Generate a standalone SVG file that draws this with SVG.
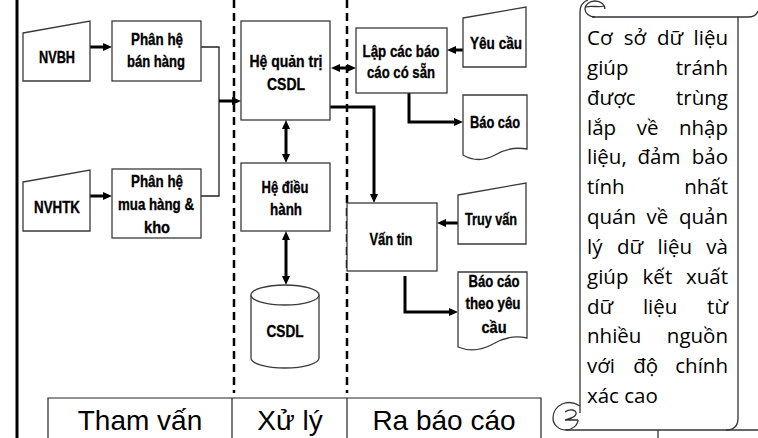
<svg xmlns="http://www.w3.org/2000/svg" width="758" height="438" viewBox="0 0 758 438">
<defs>
<marker id="ah" markerUnits="userSpaceOnUse" markerWidth="9" markerHeight="8" refX="4" refY="4" orient="auto-start-reverse" viewBox="0 0 9 8"><path d="M0,0 L9,4 L0,8 z" fill="#000"/></marker>
<style>
.box{fill:#fff;stroke:#3a3a3a;stroke-width:1.3}
.lbl{font-family:"Liberation Sans Narrow","Liberation Sans",Arial,sans-serif;font-weight:bold;font-size:17px;fill:#000;stroke:#000;stroke-width:0.35;text-anchor:middle}
.thick{fill:none;stroke:#000;stroke-width:3}
.thin{fill:none;stroke:#222;stroke-width:1.3}
.dash{stroke:#000;stroke-width:2.5;stroke-dasharray:8 5}
.tbl{fill:none;stroke:#222;stroke-width:1.2}
.tt{font-family:"Liberation Sans",Arial,sans-serif;font-size:28px;text-anchor:middle;fill:#000}
.sc{font-family:"Open Sans","Noto Sans",sans-serif;font-size:20.5px;fill:#000}
.scl{fill:none;stroke:#333;stroke-width:1.3}
</style>
</defs>
<rect width="758" height="438" fill="#fff"/>

<g id="frame">
<line x1="17" y1="0" x2="17" y2="438" stroke="#000" stroke-width="3"/>
<line class="dash" x1="234" y1="0" x2="234" y2="393"/>
<line class="dash" x1="347" y1="0" x2="347" y2="393"/>
</g>

<g id="connectors">
<path class="thin" d="M201,47 H219 V196 H201"/>
<path class="thick" d="M90,47 H107" marker-end="url(#ah)"/>
<path class="thick" d="M90,196 H107" marker-end="url(#ah)"/>
<path class="thick" d="M219,101 H236" marker-end="url(#ah)"/>
<path class="thick" d="M336,68 H351" marker-start="url(#ah)" marker-end="url(#ah)"/>
<path class="thick" d="M463,50 H452" marker-end="url(#ah)"/>
<path class="thick" d="M409,93 V122 H458" marker-end="url(#ah)"/>
<path class="thick" d="M330,107 H374 V198" marker-end="url(#ah)"/>
<path class="thick" d="M286,125 V158" marker-start="url(#ah)" marker-end="url(#ah)"/>
<path class="thick" d="M286,236 V280" marker-start="url(#ah)" marker-end="url(#ah)"/>
<path class="thick" d="M458,223 H442" marker-end="url(#ah)"/>
<path class="thick" d="M405,276 V312 H453" marker-end="url(#ah)"/>
</g>

<g id="nvbh">
<polygon class="box" points="23,33 90,21 90,81 23,81"/>
<text class="lbl" x="57" y="63" textLength="36" lengthAdjust="spacingAndGlyphs">NVBH</text>
</g>
<g id="phanhe-banhang">
<rect class="box" x="112" y="21" width="89" height="60"/>
<text class="lbl" x="157" y="45" textLength="52" lengthAdjust="spacingAndGlyphs">Phân hệ</text>
<text class="lbl" x="156" y="67" textLength="58" lengthAdjust="spacingAndGlyphs">bán hàng</text>
</g>
<g id="nvhtk">
<polygon class="box" points="23,182 90,170 90,231 23,231"/>
<text class="lbl" x="57" y="213" textLength="46" lengthAdjust="spacingAndGlyphs">NVHTK</text>
</g>
<g id="phanhe-muahang">
<rect class="box" x="112" y="169" width="89" height="69"/>
<text class="lbl" x="157" y="187" textLength="52" lengthAdjust="spacingAndGlyphs">Phân hệ</text>
<text class="lbl" x="156" y="210" textLength="76" lengthAdjust="spacingAndGlyphs">mua hàng &amp;</text>
<text class="lbl" x="157" y="233" textLength="26" lengthAdjust="spacingAndGlyphs">kho</text>
</g>
<g id="hqt">
<rect class="box" x="241" y="21" width="89" height="99"/>
<text class="lbl" x="286" y="67" textLength="73" lengthAdjust="spacingAndGlyphs">Hệ quản trị</text>
<text class="lbl" x="286" y="90" textLength="38" lengthAdjust="spacingAndGlyphs">CSDL</text>
</g>
<g id="hdh">
<rect class="box" x="241" y="163" width="89" height="68"/>
<text class="lbl" x="285" y="193" textLength="47" lengthAdjust="spacingAndGlyphs">Hệ điều</text>
<text class="lbl" x="286" y="215" textLength="32" lengthAdjust="spacingAndGlyphs">hành</text>
</g>
<g id="csdl">
<path class="box" d="M251,295 V358 A34,10 0 0 0 319,358 V295"/>
<ellipse class="box" cx="285" cy="295" rx="34" ry="10"/>
<text class="lbl" x="285" y="337" textLength="37" lengthAdjust="spacingAndGlyphs">CSDL</text>
</g>
<g id="lapbaocao">
<rect class="box" x="356" y="28" width="91" height="65"/>
<text class="lbl" x="401" y="57" textLength="77" lengthAdjust="spacingAndGlyphs">Lập các báo</text>
<text class="lbl" x="401" y="78" textLength="68" lengthAdjust="spacingAndGlyphs">cáo có sẵn</text>
</g>
<g id="yeucau">
<polygon class="box" points="463,18 526,7 526,67 463,67"/>
<text class="lbl" x="496" y="49" textLength="52" lengthAdjust="spacingAndGlyphs">Yêu cầu</text>
</g>
<g id="baocao">
<path class="box" d="M463,95 H527 V149 Q510,146 495,155 Q478,164 463,155 Z"/>
<text class="lbl" x="495" y="128" textLength="50" lengthAdjust="spacingAndGlyphs">Báo cáo</text>
</g>
<g id="vantin">
<rect class="box" x="347" y="203" width="90" height="68"/>
<text class="lbl" x="391" y="245" textLength="43" lengthAdjust="spacingAndGlyphs">Vấn tin</text>
</g>
<g id="truyvan">
<polygon class="box" points="458,195 526,183 526,244 458,244"/>
<text class="lbl" x="491" y="225" textLength="52" lengthAdjust="spacingAndGlyphs">Truy vấn</text>
</g>
<g id="baocao-yeucau">
<path class="box" d="M458,272 H527 V338 Q510,334 493,344 Q475,354 458,347 Z"/>
<text class="lbl" x="494" y="287" textLength="51" lengthAdjust="spacingAndGlyphs">Báo cáo</text>
<text class="lbl" x="493" y="309" textLength="55" lengthAdjust="spacingAndGlyphs">theo yêu</text>
<text class="lbl" x="494" y="333" textLength="25" lengthAdjust="spacingAndGlyphs">cầu</text>
</g>

<g id="table">
<path class="tbl" d="M48,445 V398 H541 V445 M232,398 V445 M347,398 V445"/>
<text class="tt" x="140" y="430">Tham vấn</text>
<text class="tt" x="290" y="430">Xử lý</text>
<text class="tt" x="444" y="430">Ra báo cáo</text>
</g>

<g id="scroll">
<path d="M580,412 V12 Q580,2 590,0 H758 V430 H566 Z" fill="#fff" stroke="none"/>
<path class="scl" d="M580,413 V12 Q580,3 588,0"/>
<path class="scl" d="M595,17 C589,17 585,13 585,9 C585,5 589,1 595,1 C601,1 605,5 605,9"/>
<path class="scl" d="M586,7 C592,5 598,8 604,6"/>
<path class="scl" d="M592,17 H748 Q756,17 758,11"/>
<path class="scl" d="M738,17 V418 Q738,430 726,430"/>
<path class="scl" d="M566,430 H758"/>
<path class="scl" d="M580,406 C574,402 567,402 562,404 C556,407 553,412 553,418 C553,425 559,430 566,430 C572,430 578,425 578,420"/>
<path class="scl" d="M565,412 C570,408 577,410 576,414 C575,418 568,419 565,420 H578"/>
<line class="scl" x1="658" y1="430" x2="658" y2="438"/>
<text class="sc" y="45"><tspan x="587">Cơ</tspan><tspan x="634.9" text-anchor="middle">sở</tspan><tspan x="670" text-anchor="middle">dữ</tspan><tspan x="728" text-anchor="end">liệu</tspan></text>
<text class="sc" y="74.8"><tspan x="587">giúp</tspan><tspan x="728" text-anchor="end">tránh</tspan></text>
<text class="sc" y="104.7"><tspan x="587">được</tspan><tspan x="728" text-anchor="end">trùng</tspan></text>
<text class="sc" y="134.5"><tspan x="587">lắp</tspan><tspan x="647.7" text-anchor="middle">về</tspan><tspan x="728" text-anchor="end">nhập</tspan></text>
<text class="sc" y="164.3"><tspan x="587">liệu,</tspan><tspan x="659" text-anchor="middle">đảm</tspan><tspan x="728" text-anchor="end">bảo</tspan></text>
<text class="sc" y="194.2"><tspan x="587">tính</tspan><tspan x="728" text-anchor="end">nhất</tspan></text>
<text class="sc" y="224"><tspan x="587">quán</tspan><tspan x="657.5" text-anchor="middle">về</tspan><tspan x="728" text-anchor="end">quản</tspan></text>
<text class="sc" y="253.8"><tspan x="587">lý</tspan><tspan x="630" text-anchor="middle">dữ</tspan><tspan x="674.8" text-anchor="middle">liệu</tspan><tspan x="728" text-anchor="end">và</tspan></text>
<text class="sc" y="283.7"><tspan x="587">giúp</tspan><tspan x="657.4" text-anchor="middle">kết</tspan><tspan x="728" text-anchor="end">xuất</tspan></text>
<text class="sc" y="313.5"><tspan x="587">dữ</tspan><tspan x="660.1" text-anchor="middle">liệu</tspan><tspan x="728" text-anchor="end">từ</tspan></text>
<text class="sc" y="343.3"><tspan x="587">nhiều</tspan><tspan x="728" text-anchor="end">nguồn</tspan></text>
<text class="sc" y="373.2"><tspan x="587">với</tspan><tspan x="645.7" text-anchor="middle">độ</tspan><tspan x="728" text-anchor="end">chính</tspan></text>
<text class="sc" x="587" y="403">xác cao</text>
</g>
</svg>
